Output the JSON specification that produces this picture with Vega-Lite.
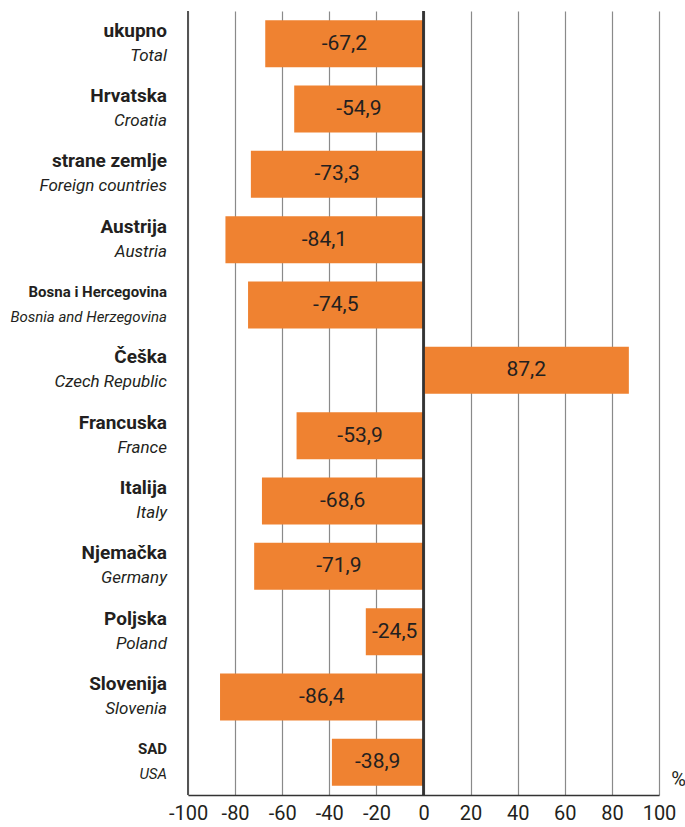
{
  "$schema": "https://vega.github.io/schema/vega-lite/v6.json",
  "autosize": "none",
  "width": 471,
  "height": 784,
  "padding": {"left": 188, "top": 11, "right": 26, "bottom": 32},
  "background": "white",
  "config": {
    "font": "Roboto",
    "view": {"stroke": null},
    "locale": {"number": {"decimal": ",", "thousands": ".", "grouping": [3], "currency": ["", ""], "minus": "-"}}
  },
  "data": {
    "values": [
      {"hr": "ukupno", "en": "Total", "v": -67.2},
      {"hr": "Hrvatska", "en": "Croatia", "v": -54.9},
      {"hr": "strane zemlje", "en": "Foreign countries", "v": -73.3},
      {"hr": "Austrija", "en": "Austria", "v": -84.1},
      {"hr": "Bosna i Hercegovina", "en": "Bosnia and Herzegovina", "v": -74.5},
      {"hr": "Češka", "en": "Czech Republic", "v": 87.2},
      {"hr": "Francuska", "en": "France", "v": -53.9},
      {"hr": "Italija", "en": "Italy", "v": -68.6},
      {"hr": "Njemačka", "en": "Germany", "v": -71.9},
      {"hr": "Poljska", "en": "Poland", "v": -24.5},
      {"hr": "Slovenija", "en": "Slovenia", "v": -86.4},
      {"hr": "SAD", "en": "USA", "v": -38.9}
    ]
  },
  "transform": [{"calculate": "datum.v / 2", "as": "mid"}],
  "encoding": {
    "y": {
      "field": "hr", "type": "nominal", "sort": null,
      "scale": {"paddingInner": 0.28, "paddingOuter": 0.14},
      "axis": null
    }
  },
  "layer": [
    {
      "mark": {"type": "bar", "color": "#EF8231"},
      "encoding": {
        "x": {
          "field": "v", "type": "quantitative",
          "scale": {"domain": [-100, 100], "nice": false},
          "axis": {
            "values": [-100, -80, -60, -40, -20, 0, 20, 40, 60, 80, 100],
            "format": "d",
            "labelOverlap": false, "labelFlush": false, "labelBound": false,
            "grid": true, "gridColor": "#8a8a8a", "gridWidth": 1.2,
            "ticks": false,
            "domain": true, "domainColor": "#333333", "domainWidth": 1.3,
            "labelFontSize": 20, "labelColor": "#231f20", "labelPadding": 8,
            "title": "%", "titleFontSize": 20, "titleFontWeight": "normal", "titleColor": "#231f20",
            "titleAngle": 0, "titleX": 490, "titleY": -16, "titleAlign": "center", "titleBaseline": "middle"
          }
        }
      }
    },
    {
      "mark": {"type": "rule", "color": "#333333", "strokeWidth": 1.3},
      "encoding": {"x": {"datum": 0}, "y": {"value": 0}, "y2": {"value": 784}}
    },
    {
      "mark": {"type": "rule", "color": "#555555", "strokeWidth": 1.3},
      "encoding": {"x": {"datum": -100}, "y": {"value": 0}, "y2": {"value": 784}}
    },
    {
      "mark": {"type": "text", "fontSize": 21, "color": "#231f20", "align": "center", "baseline": "middle"},
      "encoding": {
        "x": {"field": "mid", "type": "quantitative"},
        "text": {"field": "v", "type": "quantitative", "format": ".1f"}
      }
    },
    {
      "mark": {"type": "text", "fontWeight": "bold", "color": "#231f20", "align": "right", "baseline": "middle", "dx": -21, "dy": -13},
      "encoding": {
        "x": {"datum": -100},
        "text": {"field": "hr"},
        "size": {"condition": {"test": "datum.hr === 'Bosna i Hercegovina' || datum.hr === 'SAD'", "value": 15}, "value": 19}
      }
    },
    {
      "mark": {"type": "text", "fontStyle": "italic", "color": "#231f20", "align": "right", "baseline": "middle", "dx": -21, "dy": 12},
      "encoding": {
        "x": {"datum": -100},
        "text": {"field": "en"},
        "size": {"condition": {"test": "datum.hr === 'Bosna i Hercegovina' || datum.hr === 'SAD'", "value": 15}, "value": 17}
      }
    }
  ]
}
